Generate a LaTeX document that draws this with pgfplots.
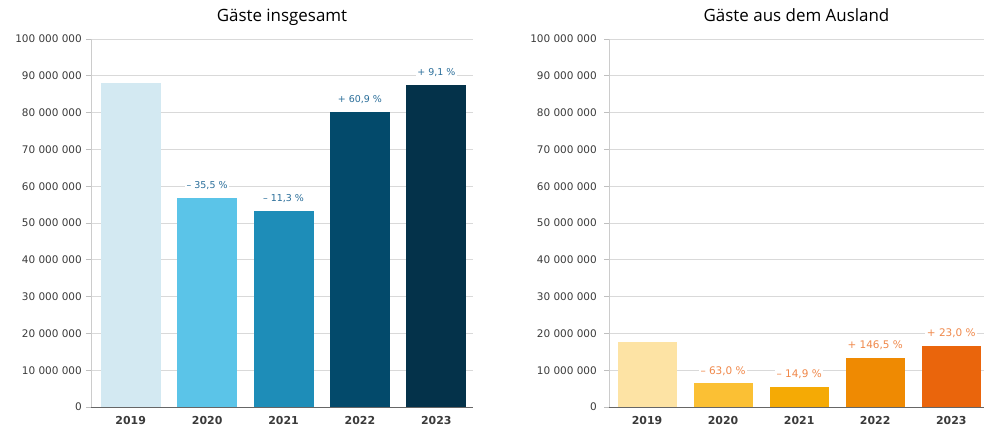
\documentclass[border=0pt]{standalone}
\usepackage{pgfplots}
\pgfplotsset{compat=1.18}
\usepackage{fontspec}
\setmainfont{DejaVu Sans}
\newfontfamily\titlefont{Open Sans}

\definecolor{bl1}{HTML}{D3E9F2}
\definecolor{bl2}{HTML}{5BC4E8}
\definecolor{bl3}{HTML}{1E8DB8}
\definecolor{bl4}{HTML}{034A6B}
\definecolor{bl5}{HTML}{04324A}
\definecolor{or1}{HTML}{FDE3A4}
\definecolor{or2}{HTML}{FBC034}
\definecolor{or3}{HTML}{F5AA05}
\definecolor{or4}{HTML}{EF8A02}
\definecolor{or5}{HTML}{EA650C}
\definecolor{bltext}{HTML}{2A6E9A}
\definecolor{ortext}{HTML}{F0884A}
\definecolor{ticktext}{HTML}{3A3A3A}

\pgfplotsset{
  gaeste/.style={
    scale only axis,
    anchor=south west,
    height=368bp,
    ymin=0, ymax=100,
    ybar,
    every axis plot/.append style={bar shift=0pt, draw=none},
    axis x line*=bottom,
    axis y line*=left,
    x axis line style={draw=black!60, line width=0.8bp},
    y axis line style={draw=black!20, line width=0.8bp},
    ymajorgrids,
    grid style={draw=black!15, line width=0.8bp},
    tick align=outside,
    major tick length=5bp,
    xtick style={draw=none},
    ytick style={draw=black!25, line width=0.8bp},
    xtick={0,1,2,3,4},
    xticklabels={2019,2020,2021,2022,2023},
    ytick={0,10,...,100},
    yticklabels={0,10 000 000,20 000 000,30 000 000,40 000 000,50 000 000,
      60 000 000,70 000 000,80 000 000,90 000 000,100 000 000},
    yticklabel style={font=\fontsize{10.5}{12}\selectfont, text=ticktext, inner sep=0pt, xshift=-4bp},
    xticklabel style={font=\bfseries\fontsize{11}{12}\selectfont, text=ticktext, inner sep=0pt, anchor=center, yshift=-9bp},
    title style={font=\titlefont\fontsize{17}{20}\selectfont, at={(0.5,1)}, anchor=base, yshift=12bp},
    nodes near coords style={anchor=center, yshift=12.5bp, fill=white, inner sep=1.5bp},
  }
}

\begin{document}
\begin{tikzpicture}
\path[use as bounding box] (0,0) rectangle (984bp,429bp);

\begin{axis}[gaeste, at={(91bp,22bp)}, width=382bp,
    xmin=-0.52, xmax=4.48, bar width=60bp,
    title={Gäste insgesamt},
    nodes near coords style={font=\fontsize{9.5}{11}\selectfont, text=bltext}]
  \addplot[fill=bl1] coordinates {(0,88.0)};
  \addplot[fill=bl2, nodes near coords={– 35,5 \%}] coordinates {(1,56.8)};
  \addplot[fill=bl3, nodes near coords={– 11,3 \%}] coordinates {(2,53.3)};
  \addplot[fill=bl4, nodes near coords={+ 60,9 \%}] coordinates {(3,80.2)};
  \addplot[fill=bl5, nodes near coords={+ 9,1 \%}] coordinates {(4,87.5)};
\end{axis}

\begin{axis}[gaeste, at={(609bp,22bp)}, width=375bp,
    xmin=-0.5, xmax=4.43, bar width=59bp,
    title={Gäste aus dem Ausland},
    yticklabel style={xshift=-3bp},
    nodes near coords style={font=\fontsize{10.5}{12}\selectfont, text=ortext}]
  \addplot[fill=or1] coordinates {(0,17.7)};
  \addplot[fill=or2, nodes near coords={– 63,0 \%}] coordinates {(1,6.4)};
  \addplot[fill=or3, nodes near coords={– 14,9 \%}] coordinates {(2,5.5)};
  \addplot[fill=or4, nodes near coords={+ 146,5 \%}] coordinates {(3,13.4)};
  \addplot[fill=or5, nodes near coords={+ 23,0 \%}] coordinates {(4,16.6)};
\end{axis}
\end{tikzpicture}
\end{document}
